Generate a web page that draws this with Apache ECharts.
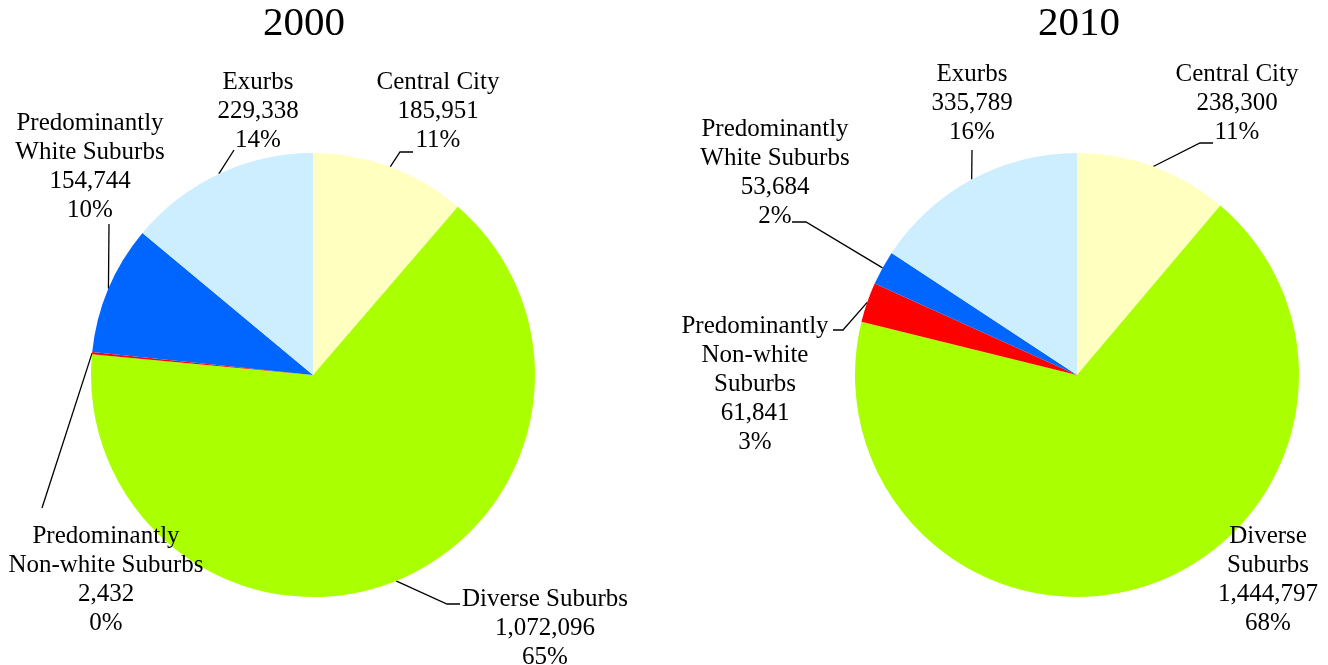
<!DOCTYPE html>
<html>
<head>
<meta charset="utf-8">
<script src="https://cdn.jsdelivr.net/npm/echarts@6/dist/echarts.min.js"></script>
<style>html,body{margin:0;padding:0;background:#fff;}#c{width:1328px;height:665px;}</style>
</head>
<body>
<div id="c"></div>
<script>
const categories = ['Central City', 'Diverse Suburbs', 'Predominantly Non-white Suburbs', 'Predominantly White Suburbs', 'Exurbs'];
const values2000 = [185951, 1072096, 2432, 154744, 229338];
const values2010 = [238300, 1444797, 61841, 53684, 335789];
const percents2000 = [11, 65, 0, 10, 14];
const percents2010 = [11, 68, 3, 2, 16];
const labels2000 = ['Central City', 'Diverse Suburbs', 'Predominantly\nNon-white Suburbs', 'Predominantly\nWhite Suburbs', 'Exurbs'];
const labels2010 = ['Central City', 'Diverse\nSuburbs', 'Predominantly\nNon-white\nSuburbs', 'Predominantly\nWhite Suburbs', 'Exurbs'];
const titles = ['2000', '2010'];
const colors = ['#FFFFC0', '#AAFF00', '#FF0000', '#0066FF', '#CCEEFF'];

// label anchor positions (layout)
const labelPos = [
  [[438, 111], [545, 628], [106, 580], [90, 167], [258, 111]],
  [[1237, 103], [1268, 580], [755, 384], [775, 173], [972, 103]]
];
// leader-line bend / end offsets relative to label anchor (layout); null = no line
const leaderOffsets = [
  [[[-38, 41], [-25, 41]], [[-98, -24], [-85, -24]], [[-64, -72], [-64, -72]], [[19, 57], [19, 57]], [[-24, 39], [-24, 39]]],
  [[[-37, 40], [-24, 40]], null, [[88, -54], [78, -54]], [[31, 49], [17, 49]], [[0, 47], [0, 47]]]
];

function makeSeries(idx, values, percents, labels, center) {
  return {
    type: 'pie',
    radius: 222,
    center: center,
    startAngle: 90,
    clockwise: true,
    avoidLabelOverlap: false,
    animation: false,
    data: categories.map((c, i) => ({
      name: c,
      value: values[i],
      itemStyle: { color: colors[i] },
      labelLine: { show: leaderOffsets[idx][i] !== null }
    })),
    label: {
      show: true,
      position: 'outside',
      fontFamily: 'Liberation Serif',
      fontSize: 25,
      lineHeight: 29,
      color: '#000',
      align: 'center',
      formatter: p => labels[p.dataIndex] + '\n' + p.value.toLocaleString('en-US') + '\n' + percents[p.dataIndex] + '%'
    },
    labelLine: { show: true, length: 10, length2: 10, smooth: false, lineStyle: { color: '#000', width: 1.3 } },
    labelLayout: function (params) {
      const pos = labelPos[idx][params.dataIndex];
      const res = { x: pos[0], y: pos[1], align: 'center', verticalAlign: 'middle' };
      const off = leaderOffsets[idx][params.dataIndex];
      if (off && params.labelLinePoints) {
        const p0 = params.labelLinePoints[0];
        res.labelLinePoints = [
          [p0[0], p0[1]],
          [pos[0] + off[0][0], pos[1] + off[0][1]],
          [pos[0] + off[1][0], pos[1] + off[1][1]]
        ];
      }
      return res;
    },
    itemStyle: { borderWidth: 0 },
    emphasis: { disabled: true }
  };
}

const chart = echarts.init(document.getElementById('c'), null, { renderer: 'canvas' });
chart.setOption({
  backgroundColor: '#fff',
  animation: false,
  title: [
    { text: titles[0], left: 299, top: -1, textAlign: 'center', textStyle: { fontFamily: 'Liberation Serif', fontSize: 41, fontWeight: 'normal', color: '#000' } },
    { text: titles[1], left: 1074, top: -1, textAlign: 'center', textStyle: { fontFamily: 'Liberation Serif', fontSize: 41, fontWeight: 'normal', color: '#000' } }
  ],
  series: [
    makeSeries(0, values2000, percents2000, labels2000, [313, 375]),
    makeSeries(1, values2010, percents2010, labels2010, [1077, 375])
  ]
});
</script>
</body>
</html>
